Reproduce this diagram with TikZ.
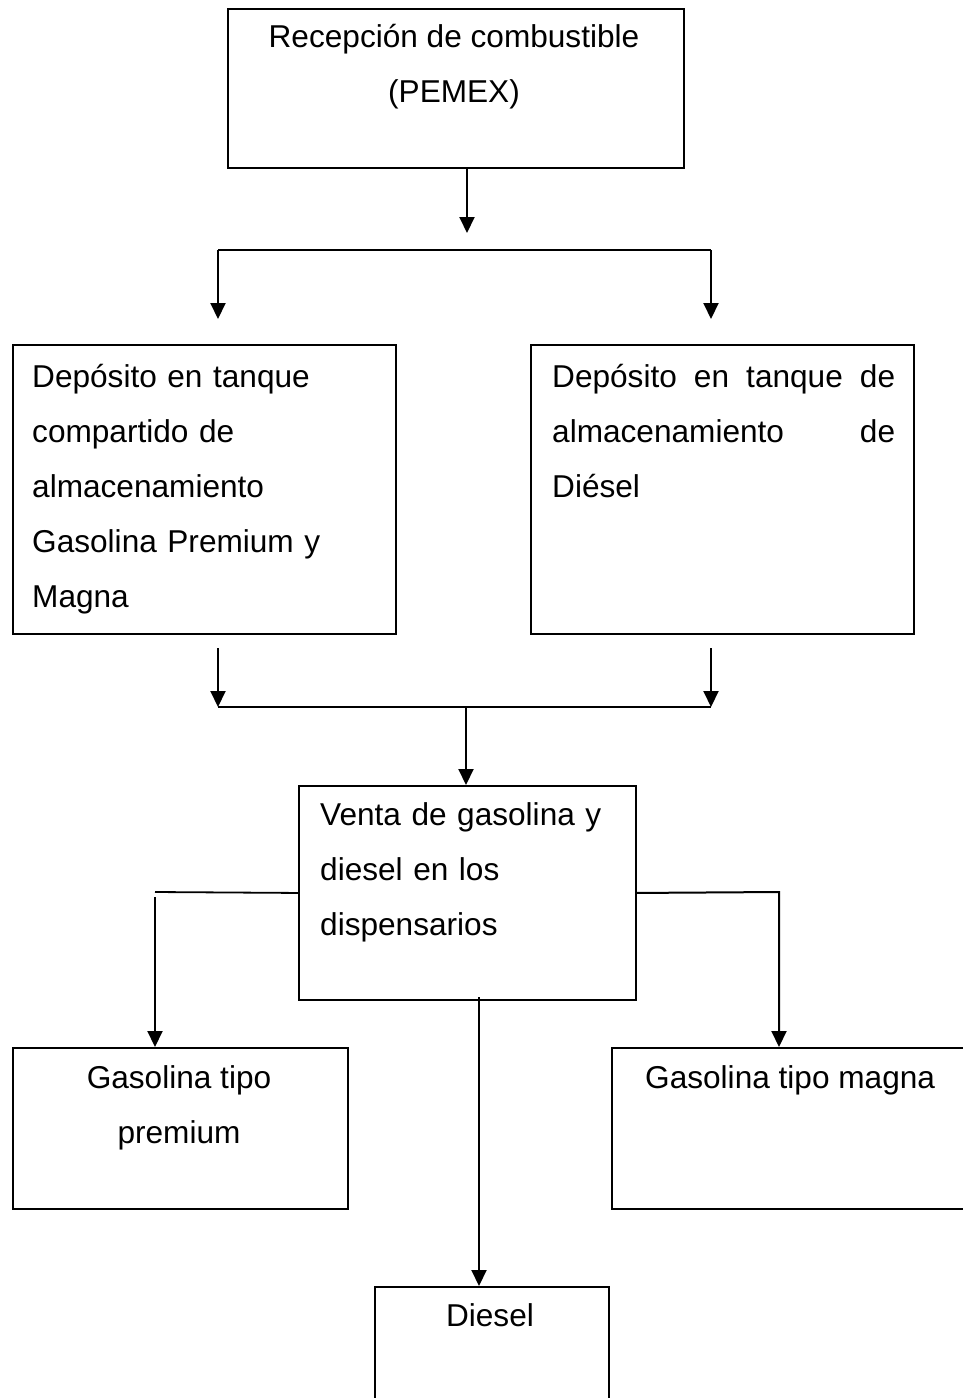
\documentclass[tikz,border=0pt]{standalone}
\usepackage{fontspec}
\setmainfont{Liberation Sans}
\usetikzlibrary{arrows.meta}
\begin{document}
\begin{tikzpicture}[x=1pt,y=-1pt,
  box/.style={draw, line width=1.9pt, inner sep=0pt, anchor=north west},
  txt/.style={inner sep=0pt, font=\fontsize{31.6}{55}\selectfont},
  ln/.style={line width=1.8pt},
  arr/.style={line width=2pt, -{Triangle[width=15pt,length=16pt]}}]
\useasboundingbox (0,0) rectangle (963,1398);
% boxes
\node[box, minimum width=456pt, minimum height=159pt] (top) at (227,8) {};
\node[box, minimum width=383pt, minimum height=289pt] (L) at (12,344) {};
\node[box, minimum width=383pt, minimum height=289pt] (R) at (530,344) {};
\node[box, minimum width=337pt, minimum height=214pt] (M) at (298,785) {};
\node[box, minimum width=335pt, minimum height=161pt] (BL) at (12,1047) {};
\node[box, minimum width=370pt, minimum height=161pt] (BR) at (611,1047) {};
\node[box, minimum width=234pt, minimum height=140pt] (D) at (374,1286) {};
% texts
\node[txt, anchor=north, align=center] (ttop) at (454,17) {\rule{0pt}{30pt}Recepción de combustible\\(PEMEX)};
\node[txt, anchor=north west, text width=350pt, align=left] (tL) at (32,357) {\rule{0pt}{30pt}Depósito en tanque\\compartido de\\almacenamiento\\Gasolina Premium y\\Magna};
\node[txt, anchor=north west, text width=343pt, align=left] (tR) at (552,357) {\rule{0pt}{30pt}Depósito\hfill en\hfill tanque\hfill de\\almacenamiento\hfill de\\Diésel};
\node[txt, anchor=north west, text width=320pt, align=left] (tM) at (320,795) {\rule{0pt}{30pt}Venta de gasolina y\\diesel en los\\dispensarios};
\node[txt, anchor=north, align=center] (tBL) at (179,1058) {\rule{0pt}{30pt}Gasolina tipo\\premium};
\node[txt, anchor=north west, align=left] (tBR) at (645,1058) {\rule{0pt}{30pt}Gasolina tipo magna};
\node[txt, anchor=north, align=center] (tD) at (490,1296) {\rule{0pt}{30pt}Diesel};
% coordinates
\coordinate (a1) at (467,233);
\coordinate (jl) at (218,250);
\coordinate (jr) at (711,250);
\coordinate (tl) at (218,319);
\coordinate (tr) at (711,319);
\coordinate (sl) at (218,648);
\coordinate (sr) at (711,648);
\coordinate (ml) at (218,707);
\coordinate (mr) at (711,707);
\coordinate (mc) at (466,707);
\coordinate (lc) at (155,892);
\coordinate (ls) at (155,897);
\coordinate (rc) at (779,892);
\coordinate (dd) at (479,997);
% connectors
\draw[arr] (top.south -| a1) -- (a1);
\draw[ln] (jl) -- (jr);
\draw[arr] (jl) -- (tl);
\draw[arr] (jr) -- (tr);
\draw[arr] (sl) -- (ml);
\draw[arr] (sr) -- (mr);
\draw[ln] (ml) -- (mr);
\draw[arr] (mc) -- (M.north -| mc);
\draw[ln] (M.west) -- (lc);
\draw[arr] (ls) -- (BL.north -| ls);
\draw[arr] (M.east) -- (rc) -- (BR.north -| rc);
\draw[arr] (dd) -- (D.north -| dd);
\end{tikzpicture}
\end{document}
